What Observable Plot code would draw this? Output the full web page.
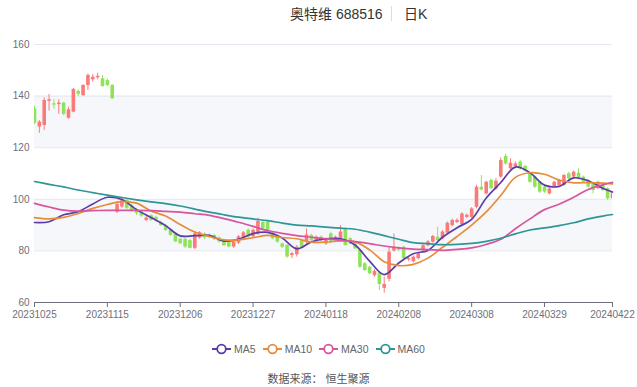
<!DOCTYPE html>
<html><head><meta charset="utf-8">
<script src="https://cdn.jsdelivr.net/npm/d3@7"></script>
<script src="https://cdn.jsdelivr.net/npm/@observablehq/plot@0.6"></script>
<style>
body{margin:0;width:637px;height:387px;background:#fff;overflow:hidden;position:relative;
 font-family:"Liberation Sans","Noto Sans CJK SC",sans-serif;}
.abs{position:absolute;white-space:nowrap;}
#t1{left:290px;top:3px;font-size:14px;color:#333;}
#sep{left:391px;top:6px;width:1px;height:15px;background:#ddd;}
#t2{left:404px;top:3px;font-size:14px;color:#333;}
#chart{left:0;top:30px;}
#legend{left:0;top:343px;width:637px;display:flex;justify-content:center;gap:7px;font-size:10.5px;color:#666;}
.item{display:flex;align-items:center;}
.item svg{margin-right:3px;}
#src{left:0;top:370px;width:637px;text-align:center;font-size:11px;color:#555;}
</style></head><body>
<div id="t1" class="abs">奥特维 688516</div>
<div id="sep" class="abs"></div>
<div id="t2" class="abs">日K</div>
<div id="chart" class="abs"></div>
<div id="legend" class="abs"></div>
<div id="src" class="abs">数据来源： 恒生聚源</div>
<script>
// x tick positions (trading-day index) and labels
const tickIdx = [0, 15, 30, 45, 60, 75, 90, 105, 119];
const tickLabels = ["20231025","20231115","20231206","20231227","20240118","20240208","20240308","20240329","20240422"];
const yTicks = [60, 80, 100, 120, 140, 160];
const shadedBands = [[120, 140], [80, 100]];

// daily candles (120 trading days)
const open = [135,128,128.6,138,137,136.7,137.3,131.4,133.8,141.8,140.2,144.1,146.3,147.1,146.7,146,144.1,
 95,97,99.5,97.5,96,95,91.8,93.7,93,91,89.8,88,86.5,84.5,84.5,84,81,85,86.5,86,86,85,84,83.5,81.5,83,85,88,85.5,86.6,91,
 91,86.6,85.3,82.7,82.1,78.2,78.5,84,83.4,86,84,85.3,82.7,86.6,84,84,88.5,84.7,82.7,80.1,75,73.7,70.4,71.5,65.5,69,80,81,
 81.4,76.5,75.8,77,80,82,83.4,85.3,84.7,86.9,89.8,91,90.2,93,93,96.9,104.7,102.1,107.3,104,108.6,116.6,111.8,112.7,114.4,
 112.7,109.9,108.6,106.6,104.7,102.1,104.7,105.4,105.4,109.9,108.6,110.1,108.6,107.3,106,104.1,105.4,104.1,100.2];
const high = [136,130.5,139.3,140.6,138.6,138.6,137.5,135.7,143,142.4,144.4,148.6,148.4,148.9,148,146.7,144.5,
 99,100.3,100,98,96.5,95.5,93.3,94,93.5,91.5,90.2,88.3,86.8,85,85,84.5,87.5,87.5,87,86.5,86.3,85.5,84.3,83.8,84,86,87.5,88.5,88.5,92.7,91.5,
 91.5,87,85.8,83,82.5,79.5,82.1,84.5,88.5,86.5,85.8,85.8,85,87.3,85.8,89.8,89,85.2,83.2,80.5,75.5,74,72.8,71.8,69.8,81.4,86.6,81.5,
 81.8,77.5,78,79.3,82.5,84,86,89.2,87.8,91.2,92.3,92.5,94.8,94.3,96.8,105.4,109.2,107,107.8,108,116,117.5,115.7,114.5,115,
 113.2,110.3,109,107,105.2,104.5,107,107.8,109.7,110.5,111,111.8,109,107.8,106.6,107,105.8,104.5,103.3];
const low = [129,125.6,126.7,134.2,135,132.9,132.5,131,133.5,139.8,139.8,142.2,145.4,146.3,143.5,143.7,138.6,
 94.5,96.5,96,95,93.8,93,91.3,91.5,91.3,89.5,87.5,85.7,83.2,82.4,81,80.8,80.5,84.5,84.5,84.8,84,83,81.8,81.2,81,82.5,84.5,85,85,86,88,
 87,84.3,83,81,77.2,77,77.6,81,82.7,83.7,83.5,83.5,82.1,82.7,83.7,83.4,81.8,82.4,80.5,73.2,72,70.8,69.8,64.6,63.6,68,79.5,79.8,
 76.5,76,75.3,76.5,79.5,81.5,83,83.6,84.3,86.5,89.3,90.5,89.8,92.5,92.5,96.3,103.2,101.6,103.8,103.5,108,113.2,111.2,112.2,111.3,
 110.5,106.2,104.2,102.3,102.3,101.6,104.3,105,105,107.3,108.2,107.5,106.2,104.3,102.1,103.8,103,99.5,99.8];
const close = [129.5,129.9,138.3,138.6,136.5,137.3,132.9,134.7,142.6,140.7,144.1,148,147.3,147.7,143.7,144.1,139,
 98,99.5,96.5,95.5,94.5,93.5,92.7,91.8,91.8,89.8,87.9,86,83.5,82.8,81.5,81,86.6,87,85,85.2,84.5,83.5,82,81.5,83.5,85.5,87,85.5,88,91.4,88.5,
 87.3,84.7,83.4,81.4,77.6,78.9,81.4,81.4,86.2,84,85.3,84,84.7,83.4,85.3,87.3,82.1,82.7,80.8,73.7,72.4,71.1,72,67,67,79.5,81.4,80.3,
 76.9,77,77.6,78.9,82,83.5,85.6,84,87.3,90.7,91.8,91.8,94.3,93.8,96.3,104.7,103.6,106.6,104.1,107,115,113.7,114,113.7,111.8,
 110.9,106.6,104.7,102.8,102.8,104,106.6,107.3,109.2,107.9,110.5,107.9,106.6,104.7,103.4,106.6,103.4,100.2,102.8];

// moving averages read every 3 trading days
const maIdx = [0,3,6,9,12,15,18,21,24,27,30,33,36,39,42,45,48,51,54,57,60,63,66,69,72,75,78,81,84,87,90,93,96,99,102,105,108,111,114,117,119];
const ma5  = [91,91.3,94,95.2,98.2,100.8,99.9,96,92.9,89.8,85.8,85.9,86,83.8,84.5,86.7,87.2,85,80.8,83.5,84.7,84.7,82.3,76,70.8,75.3,78.9,80.2,85.3,89,92.2,100.5,106.5,112.5,110.3,105.5,105,108.3,107.2,104.3,102.8];
const ma10 = [92.9,92.4,93,94.5,96.5,98,99.1,98.5,95.5,93.5,90.2,87.3,85.6,84.3,84.3,85.1,86,85.2,84.7,83.4,83.4,83.9,83.5,80.4,75.8,74.3,74.8,77.2,81.4,85.6,90,95.1,101.5,108.5,110.3,109.7,107.5,106.4,106.5,106.3,106];
const ma30 = [98.4,97,95.8,95.4,95.6,95.7,95.7,95.7,95.6,95.3,95,94.4,93.8,92.5,91.1,89.5,87.9,86.8,85.9,85.3,84.7,84.2,83.6,82.8,81.9,81.2,80.7,80.5,80.2,80.6,81.2,82.5,84.5,88.6,92.4,96,98.1,100.8,103.8,105.6,106.6];
const ma60 = [106.9,105.8,104.8,103.6,102.6,101.6,100.7,99.8,99,98.3,97.4,96.2,95,94,93.1,92.4,91.7,90.8,90,89.7,89.2,88.8,88.4,87.3,85.9,84.5,83.2,82.8,82.4,82.5,82.9,83.7,84.9,86.6,88.1,88.9,89.8,90.9,92.4,93.5,94.1];

const seriesNames = ["MA5", "MA10", "MA30", "MA60"];
const seriesColors = ["#5a3da8", "#e88c3c", "#d9549e", "#2e9696"];
const upColor = "#fa7a7a", downColor = "#8ee35a";

const candles = open.map((o, i) => ({i, o, h: high[i], l: low[i], c: close[i]}));
const maSeries = [ma5, ma10, ma30, ma60];
const colorOf = d => d.c >= d.o ? upColor : downColor;

const chart = Plot.plot({
  width: 637, height: 300,
  marginTop: 14, marginBottom: 28, marginLeft: 34, marginRight: 25,
  style: {fontFamily: '"Liberation Sans","Noto Sans CJK SC",sans-serif', fontSize: "10px", color: "#6e7079", background: "transparent"},
  x: {domain: [0, 119], ticks: tickIdx, tickFormat: d => tickLabels[tickIdx.indexOf(d)], tickSize: 5, tickPadding: 3, label: null},
  y: {domain: [60, 160], ticks: yTicks, tickSize: 0, tickPadding: 5, label: null},
  marks: [
    Plot.rect(shadedBands, {y1: d => d[0], y2: d => d[1], fill: "#f5f7fb"}),
    Plot.ruleY(yTicks.slice(1), {stroke: "#e3e7f0", strokeWidth: 1}),
    Plot.ruleX(candles, {x: "i", y1: "l", y2: "h", stroke: colorOf, strokeWidth: 1, clip: true}),
    Plot.ruleX(candles, {x: "i", y1: "o", y2: "c", stroke: colorOf, strokeWidth: 3.6, clip: true}),
    ...maSeries.map((s, k) => Plot.line(maIdx.map((i, j) => ({i, v: s[j]})),
      {x: "i", y: "v", stroke: seriesColors[k], strokeWidth: 1.7, curve: "catmull-rom"})),
    Plot.ruleY([60], {stroke: "#6e7079", strokeWidth: 1})
  ]
});
document.getElementById("chart").appendChild(chart);

const legend = document.getElementById("legend");
seriesNames.forEach((name, k) => {
  const item = document.createElement("div");
  item.className = "item";
  item.innerHTML = `<svg width="19" height="12"><line x1="0" y1="6" x2="19" y2="6" stroke="${seriesColors[k]}" stroke-width="2"/><circle cx="9.5" cy="6" r="4.3" fill="#fff" stroke="${seriesColors[k]}" stroke-width="1.8"/></svg><span>${name}</span>`;
  legend.appendChild(item);
});
</script>
</body></html>
